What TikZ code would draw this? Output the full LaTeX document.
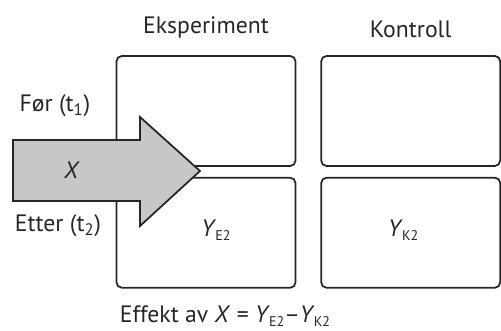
\documentclass[tikz,border=0pt]{standalone}
\usepackage{fontspec}
\setmainfont{PT Sans}
\usetikzlibrary{positioning}

\tikzset{
  cell/.style={draw=black!85, line width=1pt, rounded corners=3pt,
    minimum width=3.58cm, minimum height=2.2cm, inner sep=0pt},
  lbl/.style={text=black!85, font=\fontsize{13.5}{16}\selectfont, inner sep=1pt},
  bigarrow/.style={fill=black!22, draw=black!85, line width=1pt, line join=miter}
}
\newcommand{\ysub}[1]{\textit{Y}\kern-0.5pt\raisebox{-2.5pt}{\fontsize{8}{9}\selectfont #1}}

\begin{document}
\begin{tikzpicture}[x=0.02cm, y=-0.02cm]
    \useasboundingbox (0,0) rectangle (501,331);
    % the four cells
    \node[cell] (e1) at (206,111) {};
    \node[cell, below=0.2cm of e1] (e2) {};
    \node[cell, right=0.48cm of e1] (k1) {};
    \node[cell, below=0.2cm of k1] (k2) {};
    % column and row labels
    \node[lbl, above=0.3cm of e1] (eksp) {Eksperiment};
    \node[lbl, above=0.3cm of k1] (kontr) {Kontroll};
    \node[lbl] (foer) at (55,106) {Før (t\textsubscript{1})};
    \node[lbl] (etter) at (58,226) {Etter (t\textsubscript{2})};
    % the treatment arrow
    \coordinate (tip) at (200,171);
    \draw[bigarrow] (13,140) -- (140,140) -- (140,117) -- (tip)
        -- (140,226) -- (140,201) -- (13,201) -- cycle;
    \node[lbl] (x) at (72,170) {\textit{X}};
    % outcomes
    \node[lbl] (ye) at (e2.center) [xshift=0.2cm, yshift=0.05cm] {\ysub{E2}};
    \node[lbl] (yk) at (k2.center) [xshift=-0.15cm, yshift=0.05cm] {\ysub{K2}};
    \node[lbl, below=0.3cm of e2, xshift=0.38cm] (eff)
        {Effekt av \textit{X} = \ysub{E2}–\ysub{K2}};
\end{tikzpicture}
\end{document}
